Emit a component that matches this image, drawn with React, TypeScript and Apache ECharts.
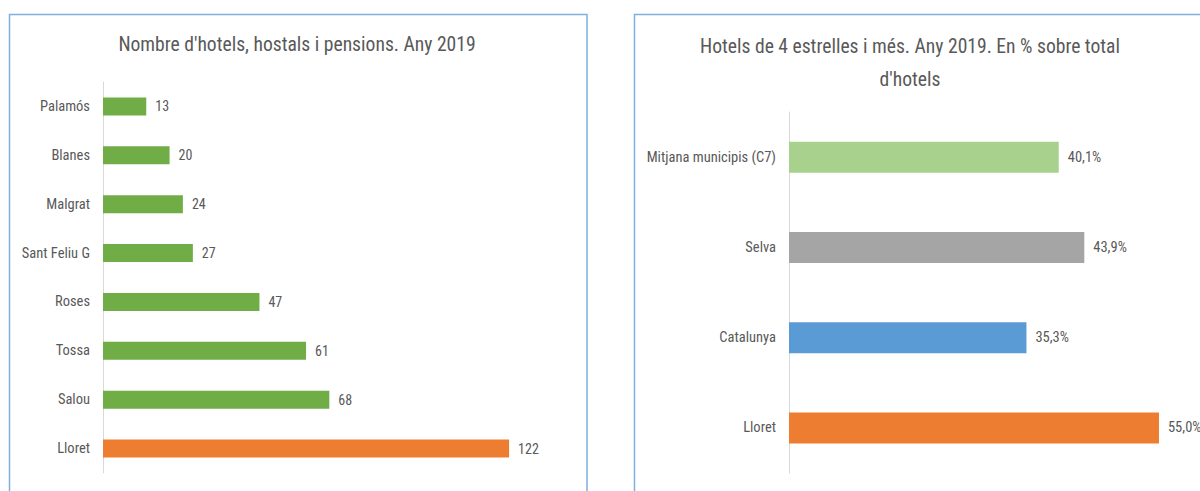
import React, { useEffect, useRef } from "react";
import * as echarts from "echarts";

const leftTitle = "Nombre d'hotels, hostals i pensions. Any 2019";
const leftCategories = ["Palamós", "Blanes", "Malgrat", "Sant Feliu G", "Roses", "Tossa", "Salou", "Lloret"];
const leftValues = [13, 20, 24, 27, 47, 61, 68, 122];

const rightTitleLines = ["Hotels de 4 estrelles i més. Any 2019. En % sobre total", "d'hotels"];
const rightCategories = ["Mitjana municipis (C7)", "Selva", "Catalunya", "Lloret"];
const rightValues = [40.1, 43.9, 35.3, 55.0];

const GREEN = "#70AD47";
const ORANGE = "#ED7D31";
const rightColors = ["#A9D18E", "#A5A5A5", "#5B9BD5", ORANGE];
const FONT = "'Liberation Sans Narrow', 'Roboto Condensed', 'Arial Narrow', Roboto, sans-serif";
const TEXT = "#595959";

export default function App() {
  const ref = useRef<HTMLDivElement>(null);
  useEffect(() => {
    if (!ref.current) return;
    const chart = echarts.init(ref.current, undefined, { renderer: "svg" });
    const catAxis = (gridIndex: number, data: string[]) => ({
      type: "category",
      gridIndex,
      data,
      inverse: true,
      axisLine: { show: true, lineStyle: { color: "#D9D9D9", width: 1 } },
      axisTick: { show: false },
      axisLabel: { color: TEXT, fontSize: 14.5, fontFamily: FONT, margin: 13 },
    });
    const valAxis = (gridIndex: number, max: number) => ({
      type: "value",
      gridIndex,
      min: 0,
      max,
      show: false,
      splitLine: { show: false },
    });
    chart.setOption({
      animation: false,
      backgroundColor: "#ffffff",
      textStyle: { fontFamily: FONT },
      grid: [
        { left: 103, top: 82, height: 391, width: 466 },
        { left: 789, top: 112, height: 361, width: 403.6 },
      ],
      xAxis: [valAxis(0, 140), valAxis(1, 60)],
      yAxis: [catAxis(0, leftCategories), catAxis(1, rightCategories)],
      series: [
        {
          type: "bar",
          xAxisIndex: 0,
          yAxisIndex: 0,
          barWidth: 18,
          data: leftValues.map((v, i) => ({
            value: v,
            itemStyle: { color: leftCategories[i] === "Lloret" ? ORANGE : GREEN },
          })),
          label: { show: true, position: "right", distance: 9, color: TEXT, fontSize: 14, fontFamily: FONT },
        },
        {
          type: "bar",
          xAxisIndex: 1,
          yAxisIndex: 1,
          barWidth: 31,
          data: rightValues.map((v, i) => ({ value: v, itemStyle: { color: rightColors[i] } })),
          label: {
            show: true,
            position: "right",
            distance: 9,
            color: TEXT,
            fontSize: 14.5,
            fontFamily: FONT,
            formatter: (p: any) => p.value.toFixed(1).replace(".", ",") + "%",
          },
        },
      ],
      graphic: [
        {
          type: "rect",
          shape: { x: 9.5, y: 14.5, width: 577.5, height: 520 },
          style: { fill: "none", stroke: "#7FAEDF", lineWidth: 1.5 },
          silent: true,
        },
        {
          type: "rect",
          shape: { x: 634.5, y: 14.5, width: 620, height: 520 },
          style: { fill: "none", stroke: "#7FAEDF", lineWidth: 1.5 },
          silent: true,
        },
        {
          type: "text",
          x: 297,
          y: 44,
          style: { text: leftTitle, textAlign: "center", textVerticalAlign: "middle", fontSize: 19.6, fill: TEXT, fontFamily: FONT },
        },
        {
          type: "text",
          x: 910,
          y: 46,
          style: { text: rightTitleLines[0], textAlign: "center", textVerticalAlign: "middle", fontSize: 19.6, fill: TEXT, fontFamily: FONT },
        },
        {
          type: "text",
          x: 910,
          y: 79,
          style: { text: rightTitleLines[1], textAlign: "center", textVerticalAlign: "middle", fontSize: 19.6, fill: TEXT, fontFamily: FONT },
        },
      ],
    });
    return () => chart.dispose();
  }, []);
  return <div ref={ref} style={{ position: "fixed", left: 0, top: 0, width: 1200, height: 491 }} />;
}
